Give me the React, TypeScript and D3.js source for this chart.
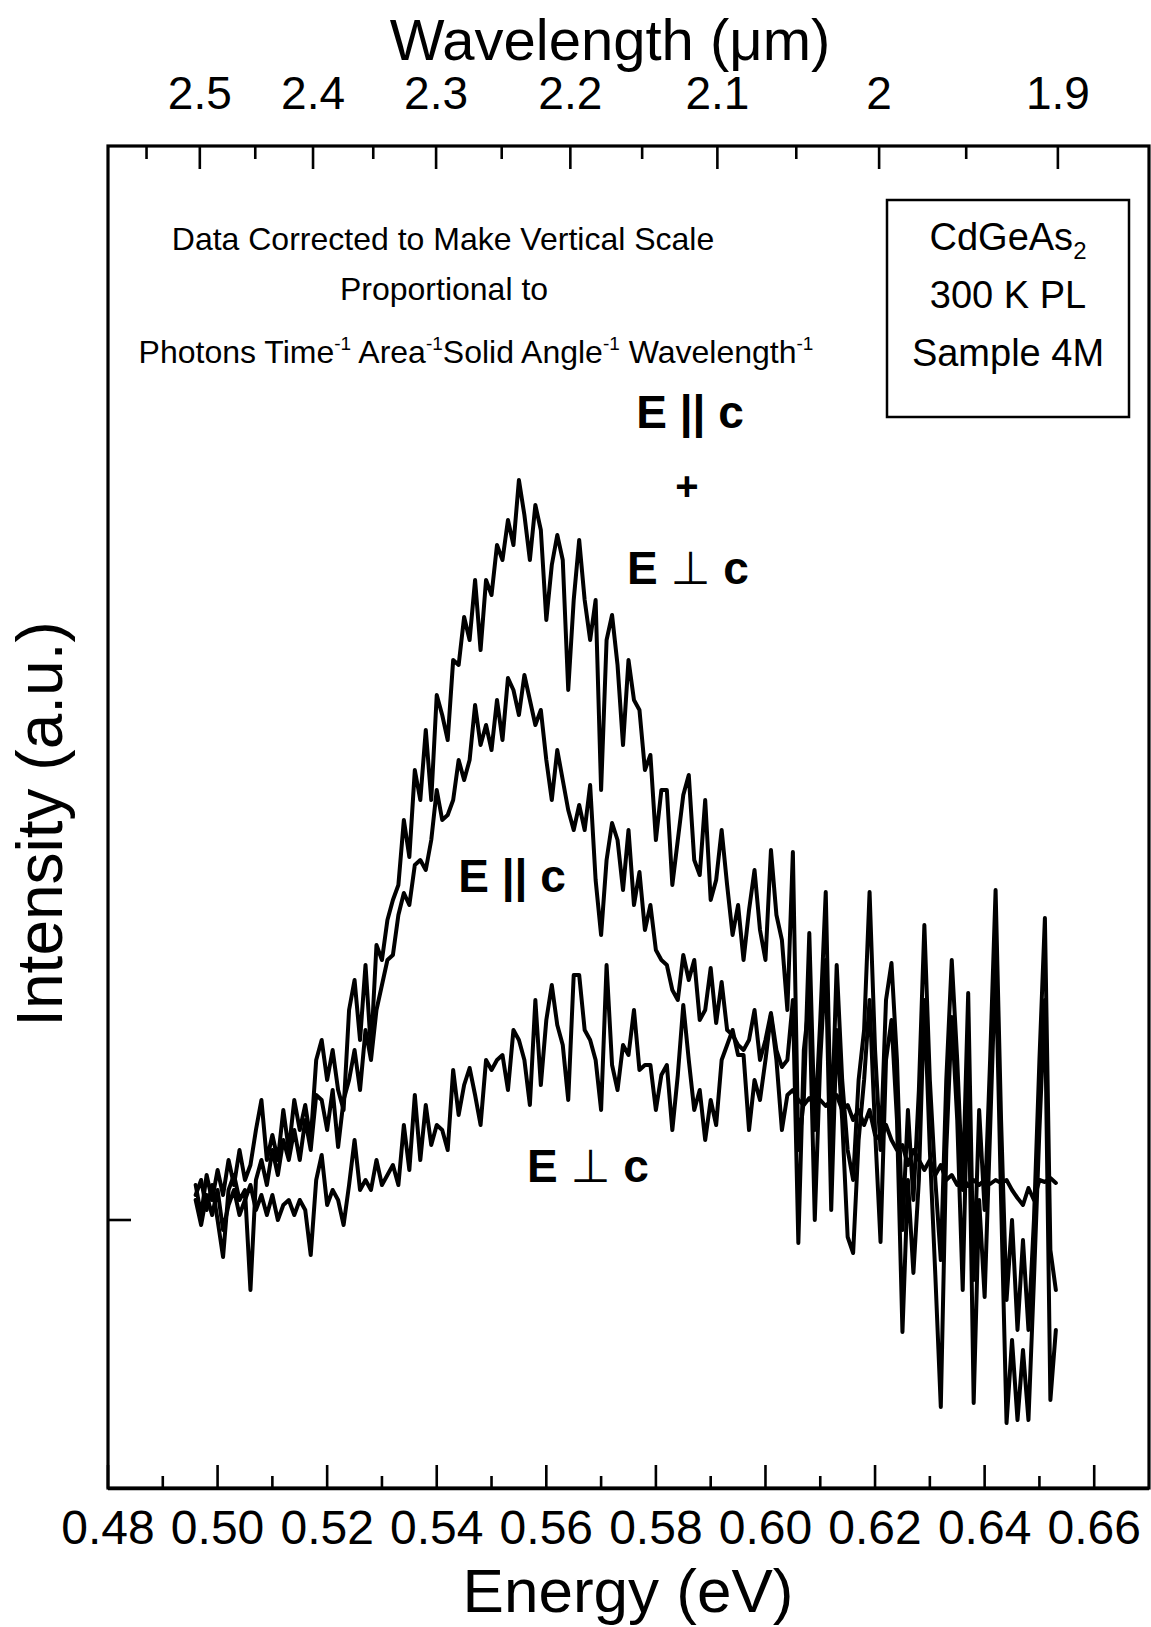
import React from "react";
import * as d3 from "d3";

// Photon energy grid (eV)
const energy = [
  0.496, 0.497, 0.498, 0.499, 0.5, 0.501, 0.502, 0.503, 0.504, 0.505,
  0.506, 0.507, 0.508, 0.509, 0.51, 0.511, 0.512, 0.513, 0.514, 0.515,
  0.516, 0.517, 0.518, 0.519, 0.52, 0.521, 0.522, 0.523, 0.524, 0.525,
  0.526, 0.527, 0.528, 0.529, 0.53, 0.531, 0.532, 0.533, 0.534, 0.535,
  0.536, 0.537, 0.538, 0.539, 0.54, 0.541, 0.542, 0.543, 0.544, 0.545,
  0.546, 0.547, 0.548, 0.549, 0.55, 0.551, 0.552, 0.553, 0.554, 0.555,
  0.556, 0.557, 0.558, 0.559, 0.56, 0.561, 0.562, 0.563, 0.564, 0.565,
  0.566, 0.567, 0.568, 0.569, 0.57, 0.571, 0.572, 0.573, 0.574, 0.575,
  0.576, 0.577, 0.578, 0.579, 0.58, 0.581, 0.582, 0.583, 0.584, 0.585,
  0.586, 0.587, 0.588, 0.589, 0.59, 0.591, 0.592, 0.593, 0.594, 0.595,
  0.596, 0.597, 0.598, 0.599, 0.6, 0.601, 0.602, 0.603, 0.604, 0.605,
  0.606, 0.607, 0.608, 0.609, 0.61, 0.611, 0.612, 0.613, 0.614, 0.615,
  0.616, 0.617, 0.618, 0.619, 0.62, 0.621, 0.622, 0.623, 0.624, 0.625,
  0.626, 0.627, 0.628, 0.629, 0.63, 0.631, 0.632, 0.633, 0.634, 0.635,
  0.636, 0.637, 0.638, 0.639, 0.64, 0.641, 0.642, 0.643, 0.644, 0.645,
  0.646, 0.647, 0.648, 0.649, 0.65, 0.651, 0.652, 0.653,
];

// E || c + E ⊥ c (a.u.)
const sumIntensity = [
  0.35, 0.05, 0.45, 0.2, 0.5, 0.25, 0.6, 0.35, 0.7, 0.4,
  0.55, 0.9, 1.2, 0.6, 0.85, 0.6, 1.1, 0.7, 1.2, 0.9,
  1.15, 0.8, 1.6, 1.8, 1.4, 1.7, 1.3, 1.1, 2.1, 2.4,
  1.8, 2.55, 1.7, 2.75, 2.6, 3.0, 3.2, 3.35, 4.0, 3.63,
  4.5, 4.2, 4.9, 4.2, 5.25, 5.05, 4.8, 5.6, 5.55, 6.03,
  5.8, 6.4, 5.7, 6.4, 6.25, 6.75, 6.6, 7.0, 6.75, 7.4,
  7.05, 6.6, 7.15, 6.9, 6.0, 6.55, 6.85, 6.6, 5.3, 6.2,
  6.8, 6.2, 5.8, 6.2, 4.3, 5.8, 6.05, 5.55, 4.75, 5.6,
  5.2, 5.1, 4.5, 4.65, 3.8, 4.3, 4.3, 3.35, 3.8, 4.25,
  4.45, 3.6, 3.45, 4.2, 3.2, 3.4, 3.9, 3.35, 2.85, 3.15,
  2.6, 3.1, 3.5, 2.9, 2.6, 3.7, 3.05, 2.8, 2.1, 3.68,
  0.7, 1.2, 2.87, 0.9, 2.0, 3.28, 0.8, 2.55, 1.4, 0.7,
  0.4, 1.4, 1.9, 3.28, 1.7, 0.7, 2.2, 2.57, 1.6, -0.1,
  1.1, 0.2, 1.3, 2.95, 1.4, 0.4, -0.4, 1.4, 2.6, 1.6,
  0.3, 2.27, -0.6, 1.1, 0.1, 1.6, 3.3, 1.0, -0.8, 0.0,
  -1.1, -0.2, -1.1, 0.0, 1.6, 3.02, -0.3, -0.7,
];

// E || c (a.u.)
const parIntensity = [
  0.25, 0.4, 0.1, 0.35, 0.0, -0.37, 0.3, 0.45, 0.2, 0.3,
  -0.7, 0.4, 0.6, 0.35, 0.7, 0.45, 0.8, 0.6, 0.9, 0.6,
  1.0, 0.7, 1.25, 1.2, 0.9, 1.3, 0.73, 1.2, 1.4, 1.7,
  1.3, 1.9, 1.6, 2.1, 2.35, 2.6, 2.65, 3.05, 3.27, 3.15,
  3.55, 3.6, 3.5, 3.8, 4.3, 4.0, 4.05, 4.2, 4.6, 4.4,
  4.6, 5.15, 4.75, 4.95, 4.7, 5.2, 4.8, 5.42, 5.3, 5.05,
  5.45, 5.2, 4.95, 5.1, 4.6, 4.2, 4.7, 4.4, 4.1, 3.9,
  4.15, 3.9, 4.35, 3.4, 2.85, 3.6, 3.97, 3.8, 3.3, 3.9,
  3.15, 3.48, 2.9, 3.15, 2.7, 2.6, 2.55, 2.3, 2.2, 2.65,
  2.4, 2.6, 2.0, 2.1, 2.52, 1.97, 2.38, 1.9, 1.85, 1.75,
  1.7, 1.8, 2.1, 1.6, 1.8, 2.07, 1.7, 1.53, 1.6, 2.2,
  -0.23, 1.7, 2.2, 0.0, 1.6, 2.6, 0.1, 1.9, 1.0, -0.17,
  -0.33, 0.8, 1.4, 2.2, 0.9, -0.22, 1.6, 2.0, 1.0, -1.12,
  0.4, -0.53, 0.4, 2.2, 0.7, -0.55, -1.87, 0.7, 2.03, 1.0,
  -0.7, 1.6, -1.83, 0.2, -0.77, 0.9, 2.6, 0.2, -2.03, -1.2,
  -2.0, -1.3, -2.0, -0.6, 0.9, 2.2, -1.8, -1.1,
];

// E ⊥ c (a.u.)
const perpIntensity = [
  0.2, -0.05, 0.25, 0.05, 0.3, -0.1, 0.15, 0.3, 0.05, 0.2,
  0.35, 0.1, 0.25, 0.05, 0.25, 0.0, 0.15, 0.2, 0.05, 0.2,
  0.1, -0.35, 0.4, 0.65, 0.15, 0.3, 0.2, -0.05, 0.35, 0.8,
  0.3, 0.4, 0.3, 0.6, 0.35, 0.45, 0.55, 0.35, 0.95, 0.5,
  1.25, 0.6, 1.15, 0.75, 0.95, 0.9, 0.7, 1.5, 1.05, 1.35,
  1.52, 1.25, 0.95, 1.6, 1.5, 1.6, 1.65, 1.3, 1.9, 1.8,
  1.6, 1.15, 2.2, 1.35, 2.0, 2.35, 1.95, 1.75, 1.2, 2.45,
  2.45, 1.9, 1.8, 1.6, 1.1, 2.55, 1.55, 1.3, 1.75, 1.65,
  2.1, 1.5, 1.55, 1.55, 1.1, 1.45, 1.55, 0.9, 1.45, 2.15,
  1.6, 1.1, 1.3, 0.8, 1.2, 0.95, 1.6, 1.75, 1.9, 1.65,
  1.65, 0.9, 1.4, 1.2, 1.6, 2.05, 1.6, 0.9, 1.25, 1.3,
  1.2, 1.15, 1.22, 1.15, 1.2, 1.14, 1.2, 1.25, 1.1, 1.15,
  1.0, 1.1, 0.95, 1.1, 0.85, 0.8, 0.95, 0.8, 0.7, 0.75,
  0.55, 0.7, 0.6, 0.5, 0.6, 0.45, 0.55, 0.4, 0.45, 0.35,
  0.42, 0.34, 0.4, 0.35, 0.4, 0.36, 0.4, 0.37, 0.4, 0.3,
  0.22, 0.15, 0.32, 0.2, 0.4, 0.38, 0.42, 0.37,
];

const energyMajorTicks = [0.48, 0.5, 0.52, 0.54, 0.56, 0.58, 0.6, 0.62, 0.64, 0.66];
const energyMinorTicks = [0.49, 0.51, 0.53, 0.55, 0.57, 0.59, 0.61, 0.63, 0.65];
const wavelengthMajorTicks = [2.5, 2.4, 2.3, 2.2, 2.1, 2.0, 1.9];
const wavelengthLabels = ["2.5", "2.4", "2.3", "2.2", "2.1", "2", "1.9"];
const wavelengthMinorTicks = [2.55, 2.45, 2.35, 2.25, 2.15, 2.05, 1.95];
const intensityTicks = [0];

const HC = 1.23984; // eV·µm

const FONT = "'Liberation Sans', Arial, Helvetica, sans-serif";

export default function App() {
  const W = 1151;
  const H = 1627;
  const left = 108;
  const right = 1149;
  const top = 146;
  const bottom = 1488;

  const x = d3.scaleLinear().domain([0.48, 0.67]).range([left, right]);
  // the printed top axis sits slightly right of the energy axis
  const xTop = d3.scaleLinear().domain([0.48, 0.67]).range([left + 4.5, right + 4.5]);
  const y = d3.scaleLinear().domain([-2.68, 10.74]).range([bottom, top]);

  const line = d3
    .line<[number, number]>()
    .x((d) => x(d[0]))
    .y((d) => y(d[1]));

  const series = [sumIntensity, parIntensity, perpIntensity].map((vals) =>
    line(energy.map((e, i) => [e, vals[i]] as [number, number]))
  );

  const boldStyle = { fontFamily: FONT, fontWeight: 700 as const };

  return (
    <div style={{ position: "absolute", left: 0, top: 0 }}>
      <svg width={W} height={H} viewBox={`0 0 ${W} ${H}`} style={{ display: "block", background: "#fff" }}>
        <rect x={0} y={0} width={W} height={H} fill="#fff" />

        {/* data */}
        <g fill="none" stroke="#000" strokeWidth={4} strokeLinejoin="round" strokeLinecap="round">
          {series.map((d, i) => (
            <path key={i} d={d || ""} />
          ))}
        </g>

        {/* frame */}
        <rect x={left} y={top} width={right - left} height={bottom - top} fill="none" stroke="#000" strokeWidth={3.2} />
        <line x1={left} x2={right} y1={bottom + 0.8} y2={bottom + 0.8} stroke="#000" strokeWidth={3} />

        {/* ticks */}
        <g stroke="#000" strokeWidth={2.6}>
          {energyMajorTicks.map((t) => (
            <line key={"bM" + t} x1={x(t)} x2={x(t)} y1={bottom} y2={bottom - 23} />
          ))}
          {energyMinorTicks.map((t) => (
            <line key={"bm" + t} x1={x(t)} x2={x(t)} y1={bottom} y2={bottom - 12} />
          ))}
          {wavelengthMajorTicks.map((t) => (
            <line key={"tM" + t} x1={xTop(HC / t)} x2={xTop(HC / t)} y1={top} y2={top + 23} />
          ))}
          {wavelengthMinorTicks.map((t) => (
            <line key={"tm" + t} x1={xTop(HC / t)} x2={xTop(HC / t)} y1={top} y2={top + 13} />
          ))}
          {intensityTicks.map((t) => (
            <line key={"y" + t} x1={left} x2={left + 23} y1={y(t)} y2={y(t)} />
          ))}
        </g>

        {/* tick labels */}
        <g fontFamily={FONT} textAnchor="middle" fill="#000">
          {energyMajorTicks.map((t) => (
            <text key={"bl" + t} x={x(t)} y={1544} fontSize={48}>
              {t.toFixed(2)}
            </text>
          ))}
          {wavelengthMajorTicks.map((t, i) => (
            <text key={"tl" + t} x={xTop(HC / t)} y={109} fontSize={46}>
              {wavelengthLabels[i]}
            </text>
          ))}
        </g>

        {/* axis titles */}
        <text x={610} y={60} fontFamily={FONT} fontSize={58} textAnchor="middle">
          Wavelength (μm)
        </text>
        <text x={628} y={1612} fontFamily={FONT} fontSize={62} textAnchor="middle">
          Energy (eV)
        </text>
        <text
          transform="translate(62,824) rotate(-90)"
          fontFamily={FONT}
          fontSize={64}
          textAnchor="middle"
        >
          Intensity (a.u.)
        </text>

        {/* annotation */}
        <g fontFamily={FONT} fontSize={32} textAnchor="middle">
          <text x={443} y={250}>Data Corrected to Make Vertical Scale</text>
          <text x={444} y={300}>Proportional to</text>
          <text x={476} y={363}>
            Photons Time
            <tspan fontSize={19} dy={-13}>-1</tspan>
            <tspan dy={13}> Area</tspan>
            <tspan fontSize={19} dy={-13}>-1</tspan>
            <tspan dy={13}>Solid Angle</tspan>
            <tspan fontSize={19} dy={-13}>-1</tspan>
            <tspan dy={13}> Wavelength</tspan>
            <tspan fontSize={19} dy={-13}>-1</tspan>
          </text>
        </g>

        {/* sample box */}
        <rect x={887} y={200} width={242} height={217} fill="none" stroke="#000" strokeWidth={2.5} />
        <g fontFamily={FONT} fontSize={38} textAnchor="middle">
          <text x={1008} y={250}>
            CdGeAs
            <tspan fontSize={24} dy={9}>2</tspan>
          </text>
          <text x={1008} y={308}>300 K PL</text>
          <text x={1008} y={366}>Sample 4M</text>
        </g>

        {/* curve labels */}
        <g fontSize={46} textAnchor="middle" style={boldStyle}>
          <text x={690} y={428}>E || c</text>
          <text x={687} y={500} fontSize={40}>+</text>
          <text x={688} y={584}>
            E <tspan fontFamily="'DejaVu Sans', sans-serif" fontWeight={400}>⊥</tspan> c
          </text>
          <text x={512} y={892}>E || c</text>
          <text x={588} y={1182}>
            E <tspan fontFamily="'DejaVu Sans', sans-serif" fontWeight={400}>⊥</tspan> c
          </text>
        </g>
      </svg>
    </div>
  );
}
